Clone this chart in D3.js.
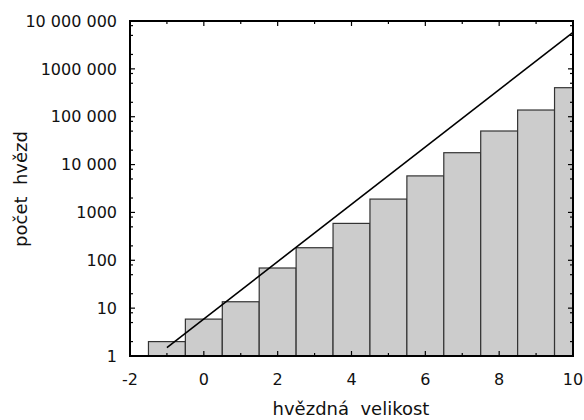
<!DOCTYPE html>
<html>
<head>
<meta charset="utf-8">
<script src="https://cdn.jsdelivr.net/npm/d3@7"></script>
<style>
  body { margin: 0; background: #fff; }
  svg text { font-family: "DejaVu Sans", sans-serif; fill: #111; }
</style>
</head>
<body>
<svg id="chart" width="584" height="420"></svg>
<script>
// histogram of star counts per magnitude bin (bins centred on whole magnitudes)
const binStart = [-1.5, -0.5, 0.5, 1.5, 2.5, 3.5, 4.5, 5.5, 6.5, 7.5, 8.5, 9.5];
const binEnd   = [-0.5, 0.5, 1.5, 2.5, 3.5, 4.5, 5.5, 6.5, 7.5, 8.5, 9.5, 10];
const counts   = [2, 5.9, 13.6, 69, 183, 590, 1900, 5800, 17700, 50300, 138000, 404000];

// reference line endpoints
const lineMag   = [-1, 10];
const lineCount = [1.5, 5.8e6];

const xTicks = [-2, 0, 2, 4, 6, 8, 10];
const xMinor = [-1, 1, 3, 5, 7, 9];
const yTicks = [1, 10, 100, 1000, 10000, 100000, 1000000, 10000000];
const yTickLabels = ["1", "10", "100", "1000", "10 000", "100 000", "1000 000", "10 000 000"];
const yMinorMult = [2, 5, 8];

const margin = { left: 130, right: 11, top: 21, bottom: 64 };
const W = 584, H = 420;
const svg = d3.select("#chart");

const x = d3.scaleLinear().domain([-2, 10]).range([margin.left, W - margin.right]);
const y = d3.scaleLog().domain([1, 1e7]).range([H - margin.bottom, margin.top]);

const x0 = x.range()[0], x1 = x.range()[1];
const y0 = y.range()[0], y1 = y.range()[1];

// bars
svg.append("g").selectAll("rect")
  .data(counts)
  .join("rect")
  .attr("x", (d, i) => x(binStart[i]))
  .attr("width", (d, i) => x(binEnd[i]) - x(binStart[i]))
  .attr("y", d => y(d))
  .attr("height", d => y0 - y(d))
  .attr("fill", "#cccccc")
  .attr("stroke", "#333")
  .attr("stroke-width", 1.2);

// minor y ticks
const yMinor = [];
yTicks.slice(0, -1).forEach(t => yMinorMult.forEach(m => yMinor.push(t * m)));

const tickG = svg.append("g").attr("stroke", "#000").attr("stroke-width", 1.2);

// x ticks bottom + top
xTicks.forEach(t => {
  tickG.append("line").attr("x1", x(t)).attr("x2", x(t)).attr("y1", y0).attr("y2", y0 - 5);
  tickG.append("line").attr("x1", x(t)).attr("x2", x(t)).attr("y1", y1).attr("y2", y1 + 5);
});
xMinor.forEach(t => {
  tickG.append("line").attr("x1", x(t)).attr("x2", x(t)).attr("y1", y0).attr("y2", y0 - 3);
  tickG.append("line").attr("x1", x(t)).attr("x2", x(t)).attr("y1", y1).attr("y2", y1 + 3);
});
// y ticks left + right
yTicks.forEach(t => {
  tickG.append("line").attr("x1", x0).attr("x2", x0 + 5).attr("y1", y(t)).attr("y2", y(t));
  tickG.append("line").attr("x1", x1).attr("x2", x1 - 5).attr("y1", y(t)).attr("y2", y(t));
});
yMinor.forEach(t => {
  tickG.append("line").attr("x1", x0).attr("x2", x0 + 3).attr("y1", y(t)).attr("y2", y(t));
  tickG.append("line").attr("x1", x1).attr("x2", x1 - 3).attr("y1", y(t)).attr("y2", y(t));
});

// reference line
svg.append("path")
  .datum(lineMag.map((m, i) => [m, lineCount[i]]))
  .attr("fill", "none")
  .attr("stroke", "#000")
  .attr("stroke-width", 1.6)
  .attr("d", d3.line().x(d => x(d[0])).y(d => y(d[1])));

// frame
svg.append("rect")
  .attr("x", x0).attr("y", y1)
  .attr("width", x1 - x0).attr("height", y0 - y1)
  .attr("fill", "none").attr("stroke", "#000").attr("stroke-width", 2);

// tick labels
svg.append("g").selectAll("text")
  .data(xTicks)
  .join("text")
  .attr("x", d => x(d))
  .attr("y", y0 + 29)
  .attr("text-anchor", "middle")
  .attr("font-size", 16)
  .text(d => d);

svg.append("g").selectAll("text")
  .data(yTicks)
  .join("text")
  .attr("x", x0 - 13)
  .attr("y", d => y(d))
  .attr("dy", "0.36em")
  .attr("text-anchor", "end")
  .attr("font-size", 16)
  .text((d, i) => yTickLabels[i]);

// axis titles
svg.append("text")
  .attr("x", 351).attr("y", 415)
  .attr("text-anchor", "middle")
  .attr("font-size", 18)
  .style("white-space", "pre")
  .text("hvězdná  velikost");

svg.append("text")
  .attr("transform", "translate(27,189) rotate(-90)")
  .attr("text-anchor", "middle")
  .attr("font-size", 18)
  .style("white-space", "pre")
  .text("počet  hvězd");
</script>
</body>
</html>
